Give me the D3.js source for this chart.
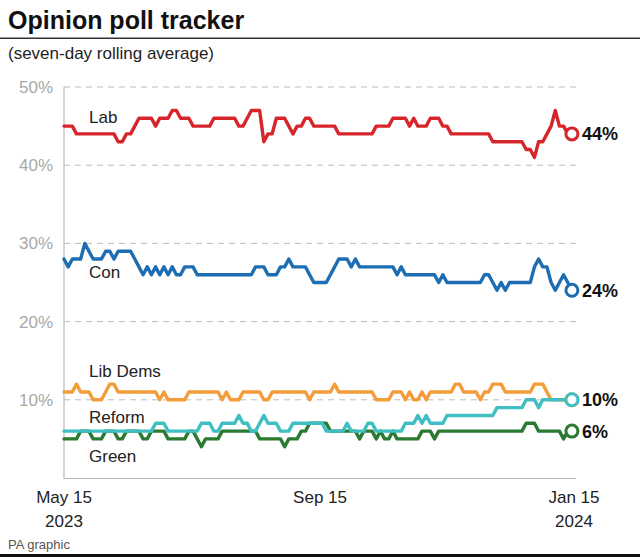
<!DOCTYPE html>
<html>
<head>
<meta charset="utf-8">
<script src="https://cdn.jsdelivr.net/npm/d3@7"></script>
<style>
  html, body { margin: 0; padding: 0; background: #fff; }
  svg { display: block; font-family: "Liberation Sans", Arial, sans-serif; }
</style>
</head>
<body>
<svg id="chart" width="640" height="559"></svg>
<script>
// ---- data (two-day samples of the seven-day rolling average, % ) ----
const startDate = "2023-05-15";
const stepDays = 2;
const parties = ["Lab", "Con", "Lib Dems", "Reform", "Green"];
const endLabels = ["44%", "24%", "10%", "10%", "6%"];
const yTicks = [10, 20, 30, 40, 50];
const xTickDates = ["2023-05-15", "2023-09-15", "2024-01-15"];
const xTickLabels = [["May 15", "2023"], ["Sep 15", ""], ["Jan 15", "2024"]];

const lab = [45,45,45,44,44,44,44,44,44,44,44,44,44,43,43,44,44,45,46,46,46,46,45,46,46,46,47,47,46,46,46,45,45,45,45,45,46,46,46,46,46,46,45,45,46,47,47,47,43,44,44,46,46,46,45,44,45,45,46,46,45,45,45,45,45,45,44,44,44,44,44,44,44,44,44,45,45,45,45,46,46,46,46,45,46,45,45,45,46,46,46,45,45,44,44,44,44,44,44,44,44,44,44,43,43,43,43,43,43,43,43,42,42,41,43,43,44,45,47,45,45,44,44];
const con = [28,27,28,28,28,30,29,28,28,28,29,29,28,29,29,29,29,28,27,26,27,26,27,26,27,26,27,26,26,27,27,27,26,26,26,26,26,26,26,26,26,26,26,26,26,26,27,27,27,26,26,26,27,27,28,27,27,27,27,26,25,25,25,25,26,27,28,28,28,27,28,27,27,27,27,27,27,27,27,27,26,27,26,26,26,26,26,26,26,26,25,26,25,25,25,25,25,25,25,25,25,26,26,25,24,25,24,25,25,25,25,25,25,27,28,27,27,25,24,25,26,25,24];
const libDems = [11,11,11,12,11,11,11,10,10,10,11,12,12,11,11,11,11,11,11,11,11,11,11,10,11,10,10,10,10,10,11,11,11,11,11,11,11,11,10,11,10,10,10,11,11,11,11,11,10,10,11,11,11,11,11,11,11,11,11,10,11,11,11,11,11,12,11,11,11,11,11,11,11,11,11,10,10,10,10,11,11,11,10,11,10,10,11,10,11,11,11,11,11,11,12,12,11,11,11,11,10,11,11,12,12,12,11,11,11,11,11,11,11,12,12,12,11,10,10,10,10,10,10];
const reform = [6,6,6,6,6,6,6,6,6,6,6,6,6,6,6,6,6,6,6,6,6,6,7,7,7,6,6,6,6,6,6,6,6,7,7,7,6,6,7,7,7,7,8,7,7,6,6,7,8,7,7,7,6,6,6,7,7,7,7,7,7,7,7,6,6,6,6,6,7,6,6,6,6,7,7,6,6,6,6,6,6,6,7,7,7,8,7,8,7,7,7,7,8,8,8,8,8,8,8,8,8,8,8,8,9,9,9,9,9,9,9,10,10,10,9,10,10,10,10,10,10,10,10];
const green = [5,5,5,5,6,6,6,5,5,5,6,6,6,5,5,6,6,6,6,5,5,6,6,6,6,5,5,5,5,5,6,6,5,4,5,5,5,5,6,6,6,6,6,6,6,6,6,5,5,5,5,5,5,4,5,5,5,6,6,7,7,7,7,7,6,6,6,6,6,6,6,5,6,6,6,5,6,5,5,6,5,5,5,5,5,5,6,6,6,5,6,6,6,6,6,6,6,6,6,6,6,6,6,6,6,6,6,6,6,6,6,7,7,7,6,6,6,6,6,6,5,6,6];

const seriesValues = [lab, con, libDems, reform, green];
const colors = ["#d7262b", "#1d6db2", "#f39c3a", "#3fbfc4", "#2a7a31"];
const labelBaselineOffsets = [-11, 20, -25, 23, 0]; // label placement helper (px)

// ---- layout ----
const W = 640, H = 559;
const plot = { left: 64, right: 574, top: 87, bottom: 478 };
const svg = d3.select("#chart");
const parse = d3.utcParse("%Y-%m-%d");
const t0 = parse(startDate);

const x = d3.scaleUtc()
  .domain([parse("2023-05-15"), parse("2024-01-15")])
  .range([plot.left, plot.right]);
const y = d3.scaleLinear().domain([0, 50]).range([plot.bottom, plot.top]);

// title & subtitle
svg.append("text").attr("x", 8).attr("y", 29)
  .attr("font-size", 25).attr("font-weight", "bold").attr("fill", "#111")
  .text("Opinion poll tracker");
svg.append("rect").attr("x", 0).attr("y", 37.5).attr("width", W).attr("height", 1.5).attr("fill", "#333");
svg.append("text").attr("x", 8).attr("y", 59)
  .attr("font-size", 17).attr("fill", "#222")
  .text("(seven-day rolling average)");

// gridlines
const grid = svg.append("g");
grid.selectAll("line").data(yTicks).join("line")
  .attr("x1", plot.left).attr("x2", 576)
  .attr("y1", d => y(d)).attr("y2", d => y(d))
  .attr("stroke", "#bdbdbd").attr("stroke-width", 1)
  .attr("stroke-dasharray", "6,5");

// y labels
svg.append("g").selectAll("text").data(yTicks).join("text")
  .attr("x", 53).attr("y", d => y(d) + 6)
  .attr("text-anchor", "end").attr("font-size", 17).attr("fill", "#a8a8a8")
  .text(d => d + "%");

// axes lines
svg.append("line").attr("x1", plot.left).attr("x2", plot.left)
  .attr("y1", plot.top).attr("y2", plot.bottom + 1)
  .attr("stroke", "#bbb").attr("stroke-width", 1.2);
svg.append("line").attr("x1", plot.left).attr("x2", 576)
  .attr("y1", plot.bottom + 0.5).attr("y2", plot.bottom + 0.5)
  .attr("stroke", "#bbb").attr("stroke-width", 1.2);

// x labels
const xl = svg.append("g").selectAll("text").data(xTickDates).join("text")
  .attr("x", d => x(parse(d))).attr("text-anchor", "middle")
  .attr("font-size", 17).attr("fill", "#222");
xl.append("tspan").attr("x", d => x(parse(d))).attr("y", 503).text((d, i) => xTickLabels[i][0]);
xl.append("tspan").attr("x", d => x(parse(d))).attr("y", 527).text((d, i) => xTickLabels[i][1]);

// lines
const line = d3.line()
  .x((d, i) => x(d3.utcDay.offset(t0, i * stepDays)))
  .y(d => y(d));

const order = [0, 1, 2, 4, 3]; // draw green below reform
order.forEach(s => {
  svg.append("path").datum(seriesValues[s])
    .attr("d", line).attr("fill", "none")
    .attr("stroke", colors[s]).attr("stroke-width", 3.4)
    .attr("stroke-linejoin", "round").attr("stroke-linecap", "round");
});

// end circles and labels
seriesValues.forEach((vals, s) => {
  const n = vals.length - 1;
  const cx = x(d3.utcDay.offset(t0, n * stepDays));
  const cy = y(vals[n]);
  svg.append("circle").attr("cx", cx).attr("cy", cy).attr("r", 6)
    .attr("fill", "#fff").attr("stroke", colors[s]).attr("stroke-width", 3);
  if (s !== 3) {
    svg.append("text").attr("x", cx + 10).attr("y", cy + 6.5)
      .attr("font-size", 18).attr("font-weight", 600).attr("fill", "#111")
      .text(endLabels[s]);
  }
});

// series labels
const seriesLabelY = [123, 278, 377, 423, 462];
svg.append("g").selectAll("text").data(parties).join("text")
  .attr("x", 89).attr("y", (d, i) => seriesLabelY[i])
  .attr("font-size", 17).attr("fill", "#222")
  .text(d => d);

// footer
svg.append("text").attr("x", 8).attr("y", 549)
  .attr("font-size", 13).attr("fill", "#555").text("PA graphic");
svg.append("rect").attr("x", 0).attr("y", 554).attr("width", W).attr("height", 3).attr("fill", "#111");
</script>
</body>
</html>
